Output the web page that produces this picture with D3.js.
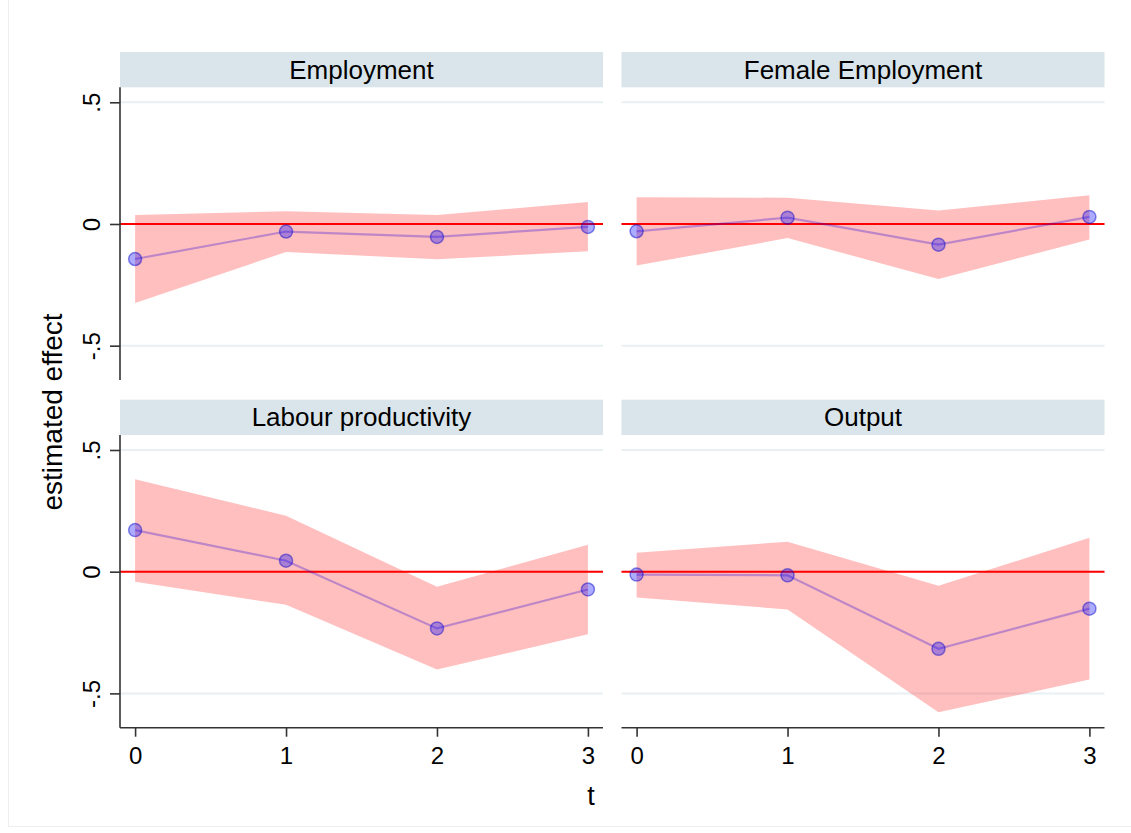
<!DOCTYPE html>
<html>
<head>
<meta charset="utf-8">
<script src="https://cdn.jsdelivr.net/npm/d3@7"></script>
<style>
  html, body { margin: 0; padding: 0; background: #fff; }
  svg { display: block; font-family: "Liberation Sans", Arial, sans-serif; }
</style>
</head>
<body>
<svg id="chart" width="1131" height="833"></svg>
<script>
// Event-time periods and outcome panels
const periods = [0, 1, 2, 3];
const outcomes = ["Employment", "Female Employment", "Labour productivity", "Output"];

// Point estimates with 95% confidence bounds, one array per outcome
const employmentEst   = [-0.144, -0.031, -0.053, -0.012];
const employmentLow   = [-0.325, -0.115, -0.145, -0.112];
const employmentHigh  = [ 0.037,  0.052,  0.037,  0.090];

const femaleEst       = [-0.030,  0.026, -0.085,  0.029];
const femaleLow       = [-0.171, -0.058, -0.226, -0.064];
const femaleHigh      = [ 0.110,  0.108,  0.055,  0.118];

const productivityEst  = [ 0.171,  0.045, -0.233, -0.073];
const productivityLow  = [-0.041, -0.136, -0.402, -0.257];
const productivityHigh = [ 0.380,  0.230, -0.062,  0.111];

const outputEst       = [-0.012, -0.015, -0.317, -0.152];
const outputLow       = [-0.106, -0.155, -0.578, -0.443];
const outputHigh      = [ 0.078,  0.123, -0.058,  0.139];

// Axis ticks
const xTicks = [0, 1, 2, 3];
const yTicks = [-0.5, 0, 0.5];
const yTickLabels = ["-.5", "0", ".5"];

const panelData = [
  { est: employmentEst,   low: employmentLow,   high: employmentHigh },
  { est: femaleEst,       low: femaleLow,       high: femaleHigh },
  { est: productivityEst, low: productivityLow, high: productivityHigh },
  { est: outputEst,       low: outputLow,       high: outputHigh }
];

const svg = d3.select("#chart");

// faint frame of the graph region
svg.append("line").attr("x1", 8.5).attr("x2", 8.5).attr("y1", 0).attr("y2", 826)
  .attr("stroke", "#eeeeee").attr("stroke-width", 1);
svg.append("line").attr("x1", 8).attr("x2", 1131).attr("y1", 826.5).attr("y2", 826.5)
  .attr("stroke", "#eeeeee").attr("stroke-width", 1);

// panel geometry
const panelW = 483, plotH = 292.7, stripH = 35.3;
const colX = [120, 621.5];
const rowStripY = [52, 399.7];

const x = d3.scaleLinear().domain([-0.1, 3.1]).range([0, panelW]);
const y = d3.scaleLinear().domain([-0.641, 0.5616]).range([plotH, 0]);

const bandColor = "rgba(255,0,0,0.25)";
const lineColor = "rgba(40,0,220,0.3)";
const tickFont = "24px";

outcomes.forEach((name, i) => {
  const col = i % 2, row = Math.floor(i / 2);
  const d = panelData[i];
  const pts = periods.map((t, k) => ({ t, est: d.est[k], low: d.low[k], high: d.high[k] }));

  const g = svg.append("g")
    .attr("transform", `translate(${colX[col]},${rowStripY[row]})`);

  // strip with panel title
  g.append("rect").attr("x", 0).attr("y", 0).attr("width", panelW).attr("height", stripH)
    .attr("fill", "#d9e5ea");
  g.append("text").attr("x", panelW / 2).attr("y", 26.5)
    .attr("text-anchor", "middle").style("font-size", "26px").attr("fill", "#000")
    .text(name);

  const p = g.append("g").attr("transform", `translate(0,${stripH})`);

  // horizontal gridlines
  p.selectAll("line.grid").data(yTicks).join("line")
    .attr("class", "grid")
    .attr("x1", 0).attr("x2", panelW)
    .attr("y1", v => y(v)).attr("y2", v => y(v))
    .attr("stroke", "#e9f0f3").attr("stroke-width", 2);

  // confidence band
  p.append("path").datum(pts)
    .attr("d", d3.area().x(e => x(e.t)).y0(e => y(e.low)).y1(e => y(e.high)))
    .attr("fill", bandColor);

  // zero reference line
  p.append("line").attr("x1", 0).attr("x2", panelW)
    .attr("y1", y(0)).attr("y2", y(0))
    .attr("stroke", "#ff0000").attr("stroke-width", 2);

  // estimate line and markers
  p.append("path").datum(pts)
    .attr("d", d3.line().x(e => x(e.t)).y(e => y(e.est)))
    .attr("fill", "none").attr("stroke", lineColor).attr("stroke-width", 2.2);
  p.selectAll("circle").data(pts).join("circle")
    .attr("cx", e => x(e.t)).attr("cy", e => y(e.est)).attr("r", 6.5)
    .attr("fill", "rgba(0,0,255,0.33)")
    .attr("stroke", "rgba(0,0,200,0.45)").attr("stroke-width", 1.5);

  // y axis on left column
  if (col === 0) {
    const ya = p.append("g").call(
      d3.axisLeft(y).tickValues(yTicks).tickSize(10).tickPadding(0)
        .tickFormat((v, k) => yTickLabels[k])
    );
    ya.attr("font-size", null).attr("font-family", null);
    ya.select(".domain").attr("d", `M0,0V${plotH}`).attr("stroke", "#333").attr("stroke-width", 1.6);
    ya.selectAll(".tick line").attr("stroke", "#333").attr("stroke-width", 1.6);
    ya.selectAll(".tick text")
      .style("font-size", tickFont).attr("fill", "#000")
      .attr("text-anchor", "middle").attr("dy", null).attr("x", null)
      .attr("transform", "translate(-20,0) rotate(-90)");
  }

  // x axis on bottom row
  if (row === 1) {
    const xa = p.append("g").attr("transform", `translate(0,${plotH})`).call(
      d3.axisBottom(x).tickValues(xTicks).tickSize(9).tickPadding(10)
        .tickFormat(d3.format("d"))
    );
    xa.attr("font-size", null).attr("font-family", null);
    xa.select(".domain").attr("d", `M0,0H${panelW}`).attr("stroke", "#333").attr("stroke-width", 1.6);
    xa.selectAll(".tick line").attr("stroke", "#333").attr("stroke-width", 1.6);
    xa.selectAll(".tick text")
      .style("font-size", tickFont).attr("fill", "#000");
  }
});

// shared axis titles
svg.append("text").attr("x", 591).attr("y", 805)
  .attr("text-anchor", "middle").style("font-size", "27px").attr("fill", "#000")
  .text("t");
svg.append("text")
  .attr("transform", "translate(62,412) rotate(-90)")
  .attr("text-anchor", "middle").style("font-size", "28px").attr("fill", "#000")
  .text("estimated effect");
</script>
</body>
</html>
